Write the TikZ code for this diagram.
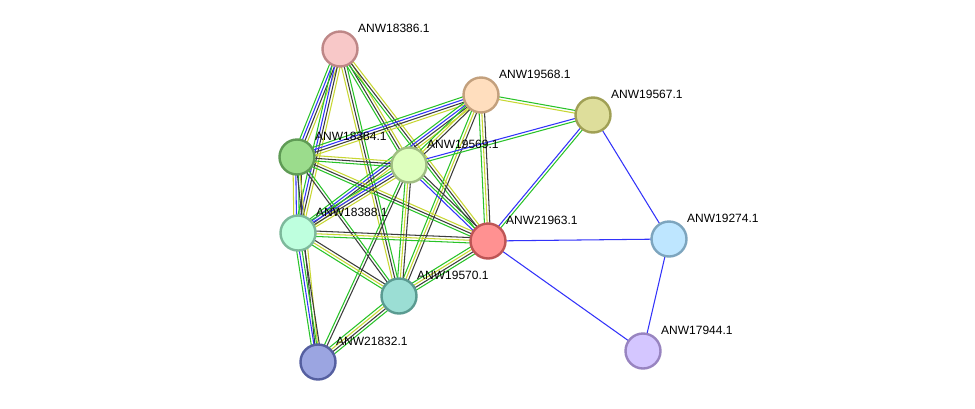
\documentclass[tikz,border=0pt]{standalone}
\usepackage{fontspec}
\setmainfont{Liberation Sans}
\usetikzlibrary{calc,backgrounds}
\definecolor{sg}{RGB}{40,195,40}
\definecolor{sb}{RGB}{50,50,250}
\definecolor{sy}{RGB}{200,215,50}
\definecolor{sk}{RGB}{60,60,60}
\tikzset{
  prot/.style={circle,minimum size=35pt,inner sep=0pt,line width=2.4pt},
  lab/.style={anchor=base west,font=\fontsize{12}{14}\selectfont,inner sep=0pt},
  link/.style={line width=1.05pt},
}
\newcommand\edge[4]{%
  \foreach \cc [count=\ii] in {#4} {%
    \pgfmathsetmacro\off{(\ii-(#3+1)/2)*2.7}%
    \draw[link,\cc] ($(#1.center)!\off pt!90:(#2.center)$) -- ($(#2.center)!\off pt!-90:(#1.center)$);
  }%
}
\begin{document}
\begin{tikzpicture}[x=1pt,y=-1pt]
\useasboundingbox (0,0) rectangle (975,408);
\newcommand\prot[6]{%
  \node[prot,fill=#4,draw=#5] (#1) at (#2,#3) {};
  \node[lab] (#1l) at (#2+18,#3-17) {#6};
}
\definecolor{fA}{RGB}{248,200,200}\definecolor{bA}{RGB}{190,135,135}
\definecolor{fB}{RGB}{255,222,190}\definecolor{bB}{RGB}{195,160,125}
\definecolor{fC}{RGB}{222,222,155}\definecolor{bC}{RGB}{160,160,85}
\definecolor{fD}{RGB}{155,220,140}\definecolor{bD}{RGB}{95,155,85}
\definecolor{fE}{RGB}{222,255,190}\definecolor{bE}{RGB}{160,190,130}
\definecolor{fF}{RGB}{190,255,222}\definecolor{bF}{RGB}{125,185,155}
\definecolor{fG}{RGB}{255,145,145}\definecolor{bG}{RGB}{190,85,85}
\definecolor{fH}{RGB}{190,230,255}\definecolor{bH}{RGB}{125,165,190}
\definecolor{fI}{RGB}{155,222,212}\definecolor{bI}{RGB}{90,155,145}
\definecolor{fJ}{RGB}{155,165,225}\definecolor{bJ}{RGB}{85,95,160}
\definecolor{fK}{RGB}{212,198,255}\definecolor{bK}{RGB}{152,132,192}
\prot{A}{340}{49}{fA}{bA}{ANW18386.1}
\prot{B}{481}{95}{fB}{bB}{ANW19568.1}
\prot{C}{593}{115}{fC}{bC}{ANW19567.1}
\prot{D}{297}{157}{fD}{bD}{ANW18384.1}
\prot{E}{409}{165}{fE}{bE}{ANW19569.1}
\prot{F}{298}{233}{fF}{bF}{ANW18388.1}
\prot{G}{488}{241}{fG}{bG}{ANW21963.1}
\prot{H}{669}{239}{fH}{bH}{ANW19274.1}
\prot{I}{399}{296}{fI}{bI}{ANW19570.1}
\prot{J}{318}{362}{fJ}{bJ}{ANW21832.1}
\prot{K}{643}{351}{fK}{bK}{ANW17944.1}
\begin{pgfonlayer}{background}
\fill[white] (0,0) rectangle (975,408);
\edge{A}{D}{4}{sg,sb,sk,sy}
\edge{A}{F}{4}{sg,sb,sk,sy}
\edge{A}{E}{3}{sg,sk,sy}
\edge{A}{G}{3}{sg,sk,sy}
\edge{A}{I}{3}{sy,sk,sg}
\edge{B}{D}{4}{sg,sb,sk,sy}
\edge{B}{F}{4}{sg,sb,sk,sy}
\edge{B}{E}{3}{sg,sy,sk}
\edge{B}{I}{3}{sg,sy,sk}
\edge{B}{G}{3}{sg,sy,sk}
\edge{B}{C}{2}{sy,sg}
\edge{C}{E}{2}{sb,sg}
\edge{C}{G}{2}{sb,sg}
\edge{C}{H}{1}{sb}
\edge{G}{H}{1}{sb}
\edge{G}{K}{1}{sb}
\edge{H}{K}{1}{sb}
\edge{D}{E}{3}{sg,sk,sy}
\edge{D}{F}{4}{sy,sb,sg,sk}
\edge{D}{G}{3}{sg,sk,sy}
\edge{D}{I}{2}{sk,sg}
\edge{D}{J}{2}{sk,sy}
\edge{E}{F}{4}{sg,sb,sk,sy}
\edge{E}{G}{3}{sb,sg,sk}
\edge{E}{I}{3}{sg,sy,sk}
\edge{E}{J}{2}{sg,sk}
\edge{F}{G}{3}{sg,sy,sk}
\edge{F}{I}{3}{sg,sy,sk}
\edge{F}{J}{4}{sg,sb,sg,sk}
\edge{G}{I}{4}{sg,sy,sk,sg}
\edge{I}{J}{4}{sg,sy,sk,sg}
\end{pgfonlayer}
\end{tikzpicture}
\end{document}
